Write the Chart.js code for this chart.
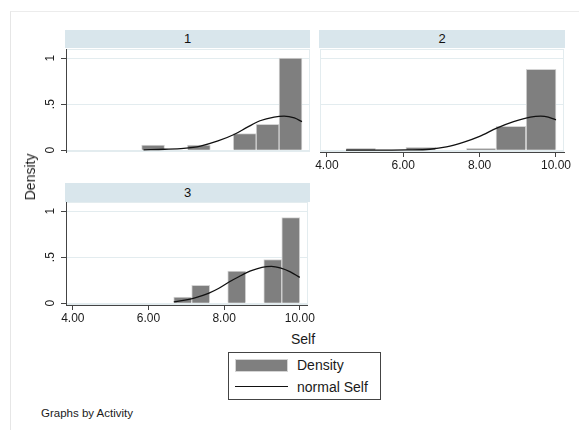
<!DOCTYPE html>
<html><head><meta charset="utf-8">
<script src="https://cdn.jsdelivr.net/npm/chart.js@4/dist/chart.umd.min.js"></script>
<style>
html,body{margin:0;padding:0;background:#fff;}
body{width:579px;height:430px;position:relative;overflow:hidden;font-family:"Liberation Sans",Arial,sans-serif;color:#1a1a1a;}
.frame{position:absolute;left:10px;top:11px;width:600px;height:440px;border-left:1px solid #e6e6e6;border-top:1px solid #ececec;}
.strip{position:absolute;background:#d9e6ec;text-align:center;font-size:13px;color:#111;}
canvas{position:absolute;}
.txt{position:absolute;white-space:nowrap;}
</style>
</head><body>
<div class="frame"></div>
<div class="strip" id="s1" style="left:65px;top:30px;width:245px;height:18px;line-height:18px;"></div>
<div class="strip" id="s2" style="left:319px;top:30px;width:246px;height:18px;line-height:18px;"></div>
<div class="strip" id="s3" style="left:65px;top:183px;width:245px;height:19px;line-height:19px;"></div>
<canvas id="c1" width="300" height="112" style="left:16px;top:45px;"></canvas>
<canvas id="c2" width="260" height="130" style="left:314px;top:45px;"></canvas>
<canvas id="c3" width="300" height="130" style="left:16px;top:198px;"></canvas>
<div class="txt" id="ytitle" style="left:30px;top:177px;font-size:14px;transform:translate(-50%,-50%) rotate(-90deg);"></div>
<div class="txt" id="xtitle" style="left:303px;top:339px;font-size:14px;transform:translate(-50%,-50%);"></div>
<div style="position:absolute;left:228px;top:352px;width:151px;height:46px;border:1px solid #444;background:#fff;"></div>
<div style="position:absolute;left:235px;top:359px;width:51px;height:11px;background:#7f7f7f;border:1px solid #d4d4d4;"></div>
<div class="txt" id="leg1" style="left:297px;top:365px;font-size:14px;transform:translateY(-50%);"></div>
<div style="position:absolute;left:235px;top:386px;width:53px;height:1.3px;background:#111;"></div>
<div class="txt" id="leg2" style="left:297px;top:387px;font-size:14px;transform:translateY(-50%);"></div>
<div class="txt" id="note" style="left:41px;top:413px;font-size:11.5px;transform:translateY(-50%);"></div>
<script>
// ---- data ----
const panelTitles = ['1', '2', '3'];
const xTickValues = [4, 6, 8, 10];
const xTickLabels = ['4.00', '6.00', '8.00', '10.00'];
const yTickValues = [0, 0.5, 1];
const yTickLabels = ['0', '.5', '1'];
const yTitle = 'Density';
const xTitle = 'Self';
const legendLabels = ['Density', 'normal Self'];
const noteText = 'Graphs by Activity';

// panel 1 (Activity = 1)
const binCenters1 = [6.1, 6.7, 7.3, 7.9, 8.5, 9.1, 9.7];
const density1   = [0.054, null, 0.054, null, 0.18, 0.28, 1.0];
const normX1 = [5.85, 6.4, 6.9, 7.34, 7.8, 8.22, 8.57, 8.9, 9.27, 9.53, 9.8, 10.0];
const normY1 = [0.004, 0.01, 0.02, 0.045, 0.1, 0.17, 0.25, 0.32, 0.36, 0.37, 0.35, 0.31];

// panel 2 (Activity = 2)
const binCenters2 = [4.89, 5.68, 6.46, 7.25, 8.04, 8.82, 9.61];
const density2   = [0.016, null, 0.032, null, 0.016, 0.26, 0.88];
const normX2 = [4.5, 5.3, 6.1, 6.7, 7.13, 7.57, 8.0, 8.45, 8.89, 9.33, 9.6, 9.8, 10.0];
const normY2 = [0, 0.001, 0.003, 0.01, 0.035, 0.085, 0.15, 0.24, 0.31, 0.36, 0.37, 0.36, 0.33];

// panel 3 (Activity = 3)
const binCenters3 = [6.905, 7.381, 7.857, 8.333, 8.81, 9.286, 9.762];
const density3   = [0.065, 0.195, null, 0.35, null, 0.475, 0.93];
const normX3 = [6.67, 7.07, 7.4, 7.6, 7.85, 8.13, 8.4, 8.7, 9.0, 9.25, 9.5, 9.75, 10.0];
const normY3 = [0.015, 0.04, 0.08, 0.11, 0.16, 0.23, 0.29, 0.35, 0.39, 0.40, 0.38, 0.34, 0.28];

// ---- text ----
document.getElementById('s1').textContent = panelTitles[0];
document.getElementById('s2').textContent = panelTitles[1];
document.getElementById('s3').textContent = panelTitles[2];
document.getElementById('ytitle').textContent = yTitle;
document.getElementById('xtitle').textContent = xTitle;
document.getElementById('leg1').textContent = legendLabels[0];
document.getElementById('leg2').textContent = legendLabels[1];
document.getElementById('note').textContent = noteText;

const FONT = '"Liberation Sans", Arial, sans-serif';
Chart.defaults.font.family = FONT;
const GRID = '#e3ecef';
const AXIS = '#444';

const framePlugin = {
  id: 'frame',
  beforeDraw(chart) {
    const a = chart.chartArea, c = chart.ctx;
    c.save(); c.strokeStyle = GRID; c.lineWidth = 1;
    c.strokeRect(Math.round(a.left) + 0.5, Math.round(a.top) + 0.5,
                 Math.round(a.right - a.left) - 1, Math.round(a.bottom - a.top) - 1);
    c.restore();
  }
};
const rotYPlugin = {
  id: 'rotY',
  afterDraw(chart, args, opts) {
    if (!opts.show) return;
    const s = chart.scales.y, c = chart.ctx;
    c.save(); c.fillStyle = '#1a1a1a'; c.font = '12px ' + FONT;
    c.textAlign = 'center'; c.textBaseline = 'middle';
    s.ticks.forEach((t, i) => {
      const y = s.getPixelForValue(t.value);
      c.save(); c.translate(s.right - 15, y); c.rotate(-Math.PI / 2);
      c.fillText(yTickLabels[i], 0, 0); c.restore();
    });
    c.restore();
  }
};

function makeChart(id, centers, dens, nx, ny, opt) {
  return new Chart(document.getElementById(id), {
    type: 'bar',
    data: {
      datasets: [
        { type: 'line', label: legendLabels[1], data: nx.map((x, i) => ({ x: x, y: ny[i] })),
          borderColor: '#111', borderWidth: 1.3, pointRadius: 0, fill: false,
          cubicInterpolationMode: 'monotone', order: 0 },
        { type: 'bar', label: legendLabels[0], data: centers.map((x, i) => ({ x: x, y: dens[i] })),
          backgroundColor: '#7f7f7f', borderColor: '#d4d4d4', borderWidth: 1, borderSkipped: 'start',
          categoryPercentage: 1, barPercentage: 1, order: 1 }
      ]
    },
    options: {
      responsive: false, animation: false, devicePixelRatio: 1,
      layout: { padding: opt.padding },
      plugins: { legend: { display: false }, tooltip: { enabled: false }, rotY: { show: opt.yAxis } },
      scales: {
        x: {
          type: 'linear', min: 3.82, max: 10.21, offset: false, display: opt.xAxis,
          afterBuildTicks: s => { s.ticks = xTickValues.map(v => ({ value: v })); },
          ticks: { callback: (v, i) => xTickLabels[i], autoSkip: false, maxRotation: 0, minRotation: 0,
                   color: '#1a1a1a', font: { size: 12 }, padding: 1 },
          grid: { drawOnChartArea: false, drawTicks: true, tickLength: 5, tickColor: AXIS, color: AXIS, offset: false },
          border: { display: true, color: AXIS, width: 1 },
          afterFit: s => { s.height = opt.xAxis ? 23 : 0; }
        },
        y: {
          type: 'linear', min: -0.02, max: 1.1,
          afterBuildTicks: s => { s.ticks = yTickValues.map(v => ({ value: v })); },
          ticks: { display: false },
          grid: { color: GRID, tickColor: AXIS, drawTicks: opt.yAxis, tickLength: 5 },
          border: { display: opt.yAxis, color: AXIS, width: 1 },
          afterFit: s => { s.width = opt.yAxis ? 50 : 0; }
        }
      }
    },
    plugins: [framePlugin, rotYPlugin]
  });
}

makeChart('c1', binCenters1, density1, normX1, normY1, { yAxis: true, xAxis: false, padding: { top: 4, right: 6, bottom: 5, left: 0 } });
makeChart('c2', binCenters2, density2, normX2, normY2, { yAxis: false, xAxis: true, padding: { top: 4, right: 10, bottom: 0, left: 6 } });
makeChart('c3', binCenters3, density3, normX3, normY3, { yAxis: true, xAxis: true, padding: { top: 4, right: 6, bottom: 0, left: 0 } });
</script>
</body></html>
